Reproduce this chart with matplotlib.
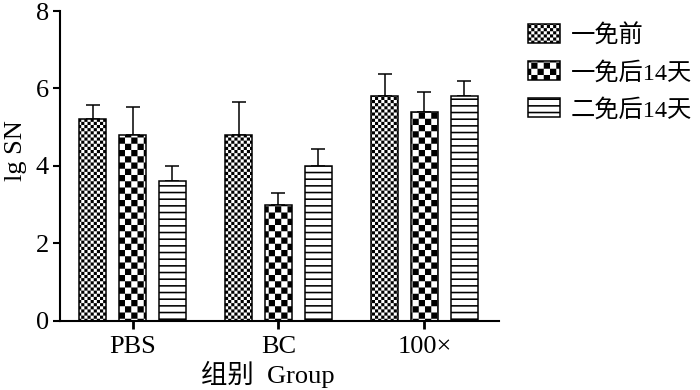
import warnings
import numpy as np
import matplotlib
matplotlib.use('Agg')
import matplotlib.pyplot as plt
import matplotlib.hatch as mhatch
from matplotlib.path import Path

warnings.filterwarnings('ignore')

# data
groups = ['PBS', 'BC', '100×']
series = ['一免前', '一免后14天', '二免后14天']
pre_vals = [5.2, 4.8, 5.8]
pre_err = [0.37, 0.85, 0.57]
first_vals = [4.8, 3.0, 5.4]
first_err = [0.73, 0.31, 0.50]
second_vals = [3.6, 4.0, 5.8]
second_err = [0.40, 0.44, 0.38]


# ---------------------------------------------------------------------------
# custom filled hatches: 'k' fine checker, 'K' coarse checker, '=' bands
# ---------------------------------------------------------------------------
class PixelHatch(mhatch.HatchPatternBase):
    def __init__(self, hatch, density):
        self.rects = []
        for ch, n in (('k', 32), ('K', 16)):
            if ch in hatch:
                s = 1.0 / n
                for i in range(n):
                    for j in range(n):
                        if (i + j) % 2 == 0:
                            self.rects.append((i * s, j * s, (i + 1) * s, (j + 1) * s))
        if '=' in hatch:
            n = 15
            t = 0.016
            for i in range(n):
                y = i / n
                self.rects.append((0.0, y, 1.0, y + t))
        self.num_vertices = 5 * len(self.rects)

    def set_vertices_and_codes(self, vertices, codes):
        v = []
        c = []
        for (x0, y0, x1, y1) in self.rects:
            v += [(x0, y0), (x1, y0), (x1, y1), (x0, y1), (x0, y0)]
            c += [Path.MOVETO, Path.LINETO, Path.LINETO, Path.LINETO, Path.CLOSEPOLY]
        vertices[:] = np.array(v)
        codes[:] = np.array(c)


mhatch._hatch_types.append(PixelHatch)

plt.rcParams['font.family'] = ['Liberation Serif', 'Noto Sans CJK SC']
plt.rcParams['hatch.linewidth'] = 0.01
plt.rcParams['hatch.color'] = 'black'

fig = plt.figure(figsize=(7.0, 3.9), dpi=100)
ax = fig.add_axes([0.0857, 0.1777, 0.627, 0.794])

x = np.arange(len(groups))
offset = 0.272
width = 0.183
fs = 19
lfs = 17.5

bar_sets = [
    (pre_vals, pre_err, 'k'),
    (first_vals, first_err, 'K'),
    (second_vals, second_err, '='),
]
for k, (vals, err, hat) in enumerate(bar_sets):
    pos = x + (k - 1) * offset
    ax.errorbar(pos, vals, yerr=[np.zeros(len(vals)), err], fmt='none',
                ecolor='black', elinewidth=1.1, capsize=5, capthick=1.1, zorder=1)
    ax.bar(pos, vals, width=width, color='white', edgecolor='black',
           linewidth=1.1, hatch=hat, label=series[k], zorder=2)

ax.set_xlim(-0.497, 2.51)
ax.set_ylim(0, 8)
ax.set_yticks([0, 2, 4, 6, 8])
ax.set_xticks(x)
ax.set_xticklabels(groups)

for side in ('top', 'right'):
    ax.spines[side].set_visible(False)
for side in ('left', 'bottom'):
    ax.spines[side].set_linewidth(1.5)
ax.tick_params(axis='y', direction='out', length=5, width=1.5, pad=3, labelsize=fs)
ax.tick_params(axis='x', direction='out', length=6, width=2, pad=5, labelsize=fs)

ax.set_ylabel('lg SN', fontsize=fs)
ax.yaxis.set_label_coords(-0.075, 0.55)
ax.set_xlabel('组别  Group', fontsize=fs)
ax.xaxis.set_label_coords(0.473, -0.13)

fig.legend(loc='upper left', bbox_to_anchor=(528 / 700, 0.938),
           bbox_transform=fig.transFigure, frameon=False, fontsize=lfs,
           borderpad=0, borderaxespad=0, handlelength=1.32, handleheight=0.83,
           handletextpad=0.45, labelspacing=0.58)

fig.savefig('out.png', dpi=100)
